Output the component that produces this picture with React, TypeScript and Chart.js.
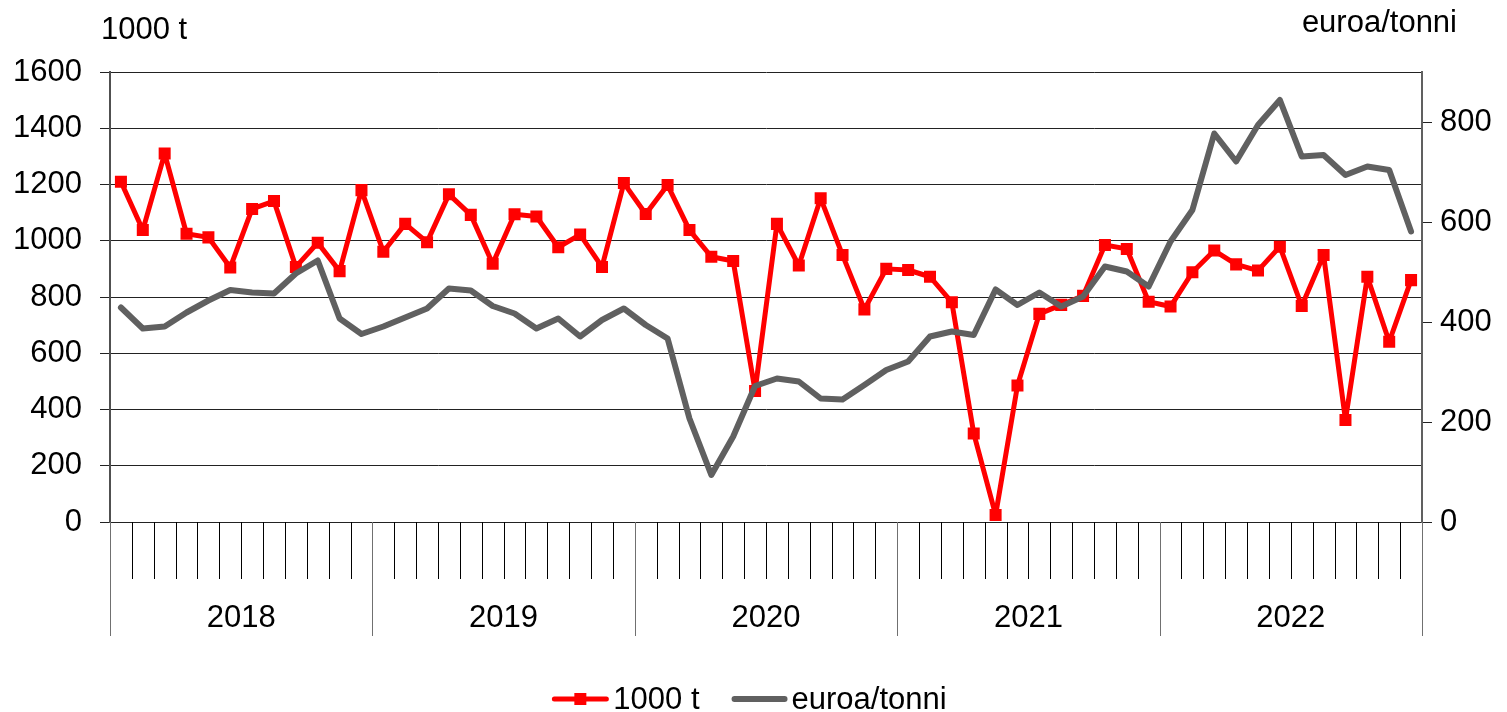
import React, { useEffect, useRef } from 'react';
import { Chart, registerables } from 'chart.js';

Chart.register(...registerables);

const YEARS = ['2018', '2019', '2020', '2021', '2022'];
const MONTHS = ['1', '2', '3', '4', '5', '6', '7', '8', '9', '10', '11', '12'];
const CATEGORIES = YEARS.flatMap((y) => MONTHS.map((m) => `${m}/${y}`));

const TONNES_2018 = [1210, 1038, 1310, 1025, 1012, 905, 1113, 1141, 907, 993, 892, 1180];
const TONNES_2019 = [961, 1060, 995, 1165, 1092, 918, 1094, 1086, 977, 1022, 907, 1205];
const TONNES_2020 = [1095, 1198, 1038, 943, 928, 466, 1060, 912, 1151, 949, 756, 900];
const TONNES_2021 = [896, 872, 781, 315, 25, 485, 740, 772, 804, 985, 971, 783];
const TONNES_2022 = [766, 888, 965, 916, 894, 979, 768, 949, 363, 872, 641, 860];

const PRICE_2018 = [429, 387, 391, 419, 443, 464, 459, 457, 497, 523, 407, 376];
const PRICE_2019 = [391, 409, 427, 467, 463, 432, 417, 387, 407, 371, 404, 427];
const PRICE_2020 = [394, 367, 207, 94, 171, 272, 287, 281, 247, 245, 274, 304];
const PRICE_2021 = [321, 371, 381, 374, 465, 434, 459, 431, 451, 511, 501, 471];
const PRICE_2022 = [561, 624, 777, 721, 794, 844, 731, 734, 694, 711, 704, 581];

const TONNES = [...TONNES_2018, ...TONNES_2019, ...TONNES_2020, ...TONNES_2021, ...TONNES_2022];
const PRICE = [...PRICE_2018, ...PRICE_2019, ...PRICE_2020, ...PRICE_2021, ...PRICE_2022];

const LEFT_TICKS_MAX = 1600;
const RIGHT_TICKS_MAX = 900;
const RIGHT_LABEL_MAX = 800;
const LEFT_TITLE = '1000 t';
const RIGHT_TITLE = 'euroa/tonni';
const SERIES_TONNES = '1000 t';
const SERIES_PRICE = 'euroa/tonni';

const RED = '#ff0000';
const GREY = '#606060';
const FAMILY = "'Liberation Sans', Arial, sans-serif";
const FONT_SIZE = 31;
const FONT = `${FONT_SIZE}px ${FAMILY}`;

const decorPlugin = {
  id: 'decor',
  afterDraw(chart: any) {
    const ctx = chart.ctx as CanvasRenderingContext2D;
    const x = chart.scales.x;
    const area = chart.chartArea;
    const bottom = area.bottom;
    const n = CATEGORIES.length;
    const step = x.getPixelForValue(1) - x.getPixelForValue(0);
    const start = x.getPixelForValue(0) - step / 2;
    ctx.save();
    // month ticks and year separators
    for (let i = 0; i <= n; i++) {
      const px = Math.round(start + i * step) + 0.5;
      const isYear = i % 12 === 0;
      ctx.strokeStyle = isYear ? '#707070' : '#000000';
      ctx.lineWidth = 1;
      ctx.beginPath();
      ctx.moveTo(px, bottom);
      ctx.lineTo(px, bottom + (isYear ? 114 : 57));
      ctx.stroke();
    }
    // year labels
    ctx.font = FONT;
    ctx.fillStyle = '#000';
    ctx.textAlign = 'center';
    ctx.textBaseline = 'middle';
    YEARS.forEach((y, k) => {
      const cx = (x.getPixelForValue(k * 12) + x.getPixelForValue(k * 12 + 11)) / 2;
      ctx.fillText(y, cx, bottom + 96);
    });
    // axis titles
    ctx.textAlign = 'left';
    ctx.textBaseline = 'alphabetic';
    ctx.fillText(LEFT_TITLE, area.left - 9, 39);
    ctx.textAlign = 'right';
    ctx.fillText(RIGHT_TITLE, chart.width - 50, 32);

    // legend
    const symW = 56;
    const w1 = ctx.measureText(SERIES_TONNES).width;
    const w2 = ctx.measureText(SERIES_PRICE).width;
    const total = symW + 5 + w1 + 32 + symW + 4 + w2;
    let lx = chart.width / 2 - total / 2 - 4;
    const ly = 699;
    ctx.lineCap = 'round';
    ctx.strokeStyle = RED;
    ctx.lineWidth = 5;
    ctx.beginPath();
    ctx.moveTo(lx + 2, ly);
    ctx.lineTo(lx + symW - 2, ly);
    ctx.stroke();
    ctx.fillStyle = RED;
    ctx.fillRect(lx + symW / 2 - 6, ly - 6, 12, 12);
    lx += symW + 5;
    ctx.fillStyle = '#000';
    ctx.textAlign = 'left';
    ctx.textBaseline = 'middle';
    ctx.fillText(SERIES_TONNES, lx, ly + 1);
    lx += w1 + 32;
    ctx.strokeStyle = GREY;
    ctx.lineWidth = 6;
    ctx.beginPath();
    ctx.moveTo(lx + 3, ly);
    ctx.lineTo(lx + symW - 3, ly);
    ctx.stroke();
    lx += symW + 4;
    ctx.fillText(SERIES_PRICE, lx, ly + 1);
    ctx.restore();
  },
};

export default function App() {
  const canvasRef = useRef<HTMLCanvasElement | null>(null);

  useEffect(() => {
    document.body.style.margin = '0';
    document.body.style.overflow = 'hidden';
    const canvas = canvasRef.current;
    if (!canvas) return;
    const tickFont = { family: FAMILY, size: FONT_SIZE };
    const plain = (v: any) => String(v);
    const chart = new Chart(canvas, {
      type: 'line',
      data: {
        labels: CATEGORIES,
        datasets: [
          {
            label: SERIES_TONNES,
            data: TONNES,
            yAxisID: 'y',
            borderColor: RED,
            backgroundColor: RED,
            borderWidth: 5,
            borderJoinStyle: 'round',
            borderCapStyle: 'round',
            pointStyle: 'rect',
            pointRadius: 8.5,
            pointBorderWidth: 0,
            pointBackgroundColor: RED,
            pointBorderColor: RED,
            tension: 0,
            order: 1,
          },
          {
            label: SERIES_PRICE,
            data: PRICE,
            yAxisID: 'y1',
            borderColor: GREY,
            backgroundColor: GREY,
            borderWidth: 6,
            pointRadius: 0,
            borderCapStyle: 'round',
            borderJoinStyle: 'round',
            tension: 0,
            order: 0,
          },
        ],
      },
      options: {
        animation: false,
        responsive: true,
        maintainAspectRatio: false,
        layout: { padding: { top: 72, left: 0, right: 0, bottom: 0 } },
        plugins: {
          legend: { display: false },
          tooltip: { enabled: false },
        },
        scales: {
          x: {
            type: 'category',
            offset: true,
            grid: { display: false },
            border: { display: false },
            ticks: { display: false },
            afterFit: (s: any) => {
              s.height = 190;
            },
          },
          y: {
            position: 'left',
            min: 0,
            max: LEFT_TICKS_MAX,
            ticks: { stepSize: 200, font: tickFont, color: '#000', padding: 18, callback: plain },
            grid: { color: '#222', lineWidth: 1, tickLength: 10 },
            border: { display: true, color: '#505050', width: 2 },
            afterFit: (s: any) => {
              s.width = 110;
            },
          },
          y1: {
            position: 'right',
            min: 0,
            max: RIGHT_TICKS_MAX,
            afterBuildTicks: (s: any) => {
              s.ticks = s.ticks.filter((t: any) => t.value <= RIGHT_LABEL_MAX);
            },
            ticks: { stepSize: 200, font: tickFont, color: '#000', padding: 8, callback: plain },
            grid: { drawOnChartArea: false, color: '#222', tickLength: 10 },
            border: { display: true, color: '#606060', width: 2 },
            afterFit: (s: any) => {
              s.width = 85;
            },
          },
        },
      },
      plugins: [decorPlugin],
    } as any);
    return () => chart.destroy();
  }, []);

  return (
    <div style={{ width: 1507, height: 712, position: 'relative' }}>
      <canvas ref={canvasRef} />
    </div>
  );
}
